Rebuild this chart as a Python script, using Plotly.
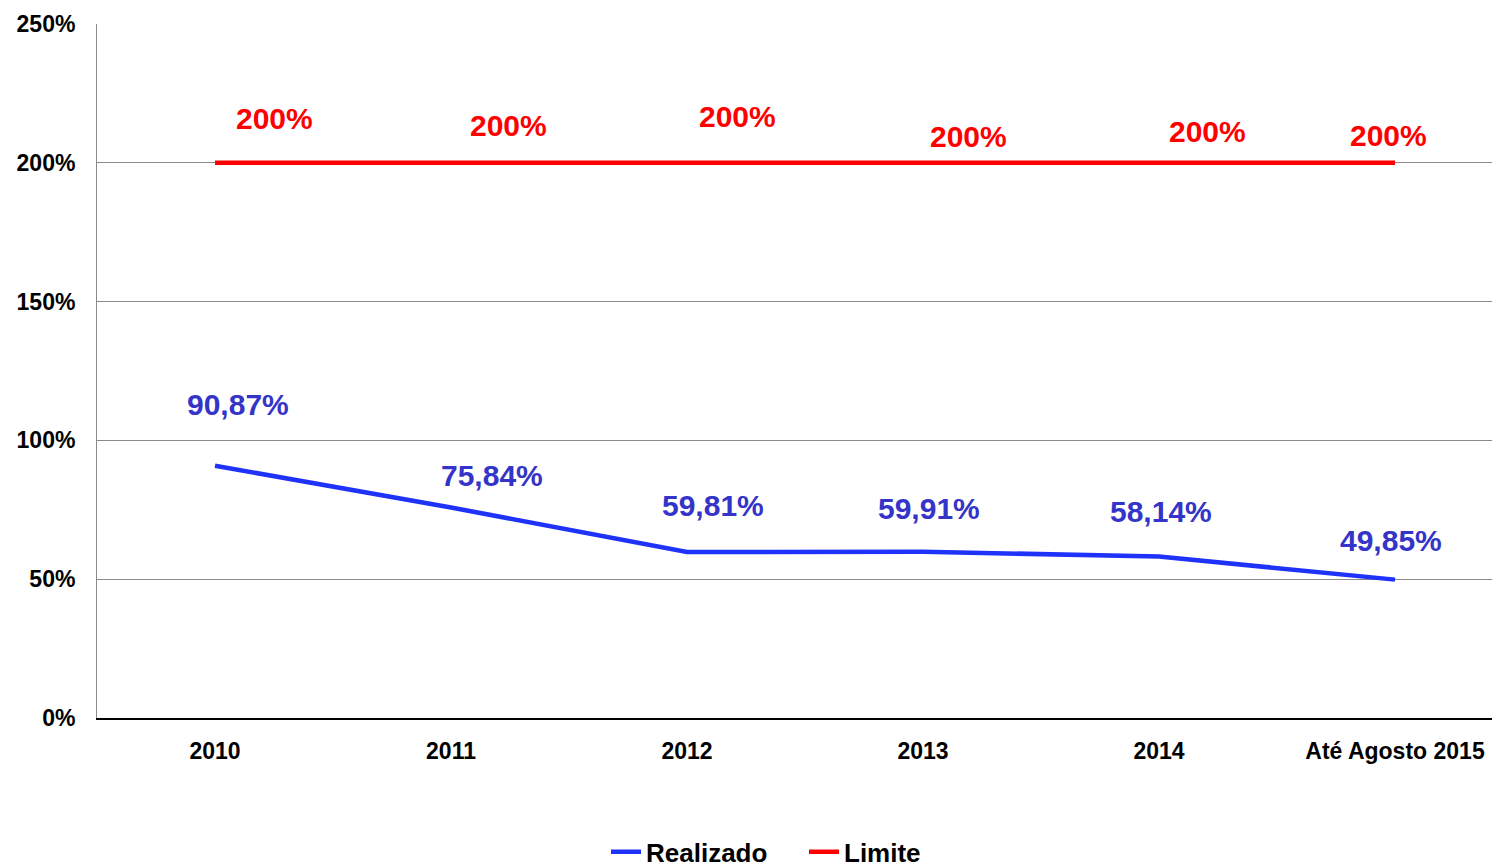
import plotly.graph_objects as go

categories = ["2010", "2011", "2012", "2013", "2014", "Até Agosto 2015"]
realizado = [90.87, 75.84, 59.81, 59.91, 58.14, 49.85]
limite = [200, 200, 200, 200, 200, 200]
realizado_labels = ["90,87%", "75,84%", "59,81%", "59,91%", "58,14%", "49,85%"]
limite_labels = ["200%", "200%", "200%", "200%", "200%", "200%"]
y_ticks = [0, 50, 100, 150, 200, 250]
y_tick_labels = ["0%", "50%", "100%", "150%", "200%", "250%"]

# label offsets in screen pixels (styling)
blue_dx = [23, 41, 26, 6, 2, -4]
blue_dy = [61, 32, 46, 43, 45, 39]
red_dx = [59, 57, 50, 45, 48, -7]
red_dy = [44, 37, 46, 26, 31, 27]

FONT = "Liberation Sans Narrow, Arial Narrow, Liberation Sans, Arial, sans-serif"
BLUE_LINE = "#1E32FA"
BLUE_TEXT = "#3434C8"
RED = "#FF0000"

xs = list(range(len(categories)))

fig = go.Figure()
fig.add_trace(go.Scatter(x=xs, y=realizado, mode="lines", name="Realizado",
                         line=dict(color=BLUE_LINE, width=4.5)))
fig.add_trace(go.Scatter(x=xs, y=limite, mode="lines", name="Limite",
                         line=dict(color=RED, width=4.5)))

annotations = []
for i, (v, t) in enumerate(zip(realizado, realizado_labels)):
    annotations.append(dict(x=xs[i], y=v, text=t, showarrow=False,
                            xshift=blue_dx[i], yshift=blue_dy[i],
                            font=dict(family=FONT, size=30, color=BLUE_TEXT, weight="bold")))
for i, (v, t) in enumerate(zip(limite, limite_labels)):
    annotations.append(dict(x=xs[i], y=v, text=t, showarrow=False,
                            xshift=red_dx[i], yshift=red_dy[i],
                            font=dict(family=FONT, size=30, color=RED, weight="bold")))

fig.update_layout(
    width=1513, height=867,
    margin=dict(l=97, r=0, t=24, b=149, autoexpand=False),
    paper_bgcolor="white", plot_bgcolor="white",
    font=dict(family=FONT, color="black", weight="bold"),
    showlegend=True,
    legend=dict(orientation="h", x=(606 - 97) / 1416, xanchor="left", y=-0.193, yanchor="middle",
                font=dict(family=FONT, size=26, color="black", weight="bold"),
                itemwidth=30, entrywidthmode="pixels", entrywidth=153,
                bgcolor="rgba(0,0,0,0)"),
    annotations=annotations,
)
fig.update_xaxes(
    range=[-0.5, 5.5], tickmode="array", tickvals=xs, ticktext=categories,
    showgrid=False, zeroline=False, showline=True, linecolor="black", linewidth=2,
    ticks="", tickfont=dict(family=FONT, size=23, color="black", weight="bold"),
    ticklabelstandoff=11,
)
fig.update_yaxes(
    range=[0, 250], tickmode="array", tickvals=y_ticks, ticktext=y_tick_labels,
    showgrid=True, gridcolor="#8A8A8A", gridwidth=1, zeroline=False,
    showline=True, linecolor="#8A8A8A", linewidth=1, mirror=False,
    ticks="", tickfont=dict(family=FONT, size=23, color="black", weight="bold"),
    ticklabelstandoff=16,
)

fig.write_html("out.html", config={"displayModeBar": False},
               post_script="document.body.style.margin='0';document.body.style.overflow='hidden';")
